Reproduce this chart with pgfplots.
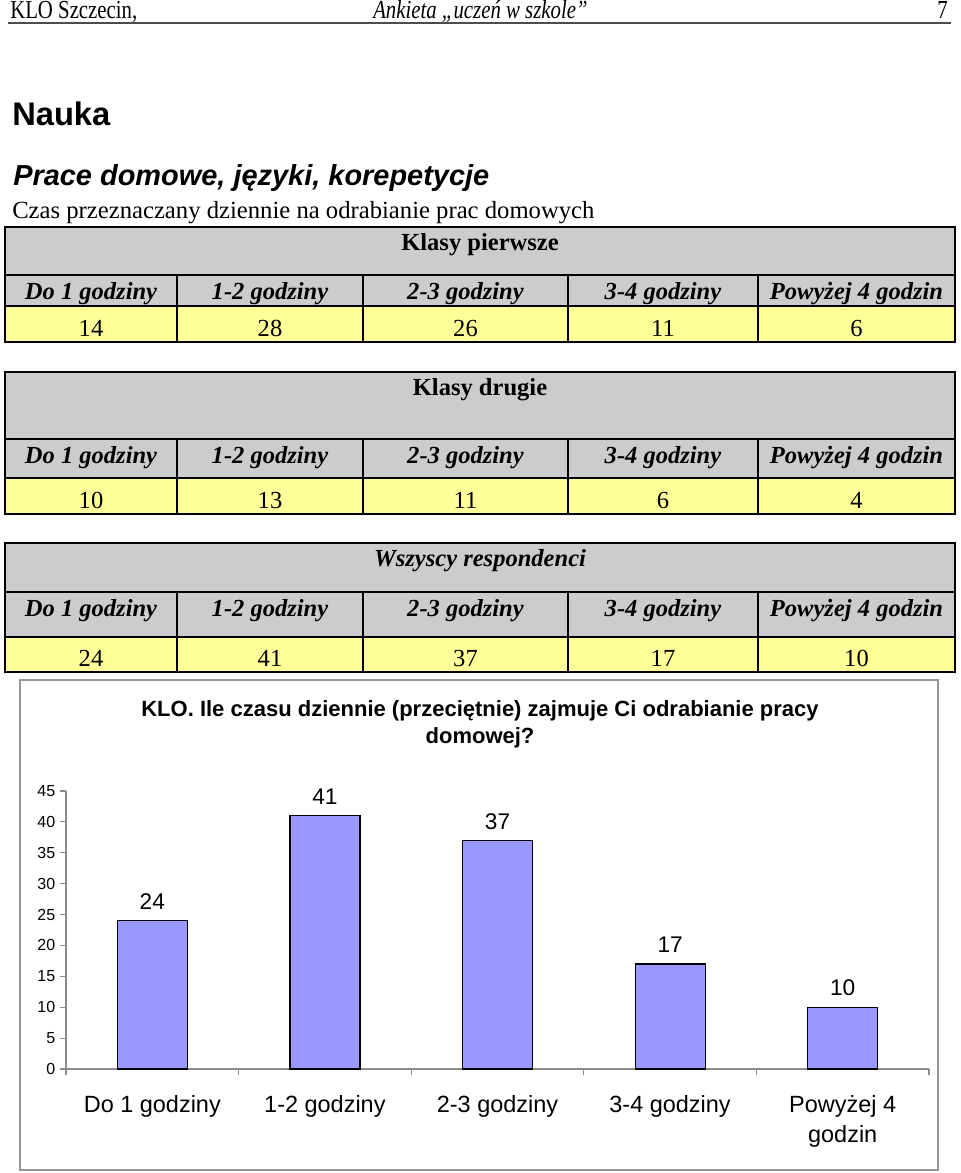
\documentclass[border=0pt]{standalone}
\usepackage{fontspec}
\setmainfont{Liberation Serif}
\newfontfamily\arial{Liberation Sans}
\newfontfamily\narrowserif[FakeStretch=0.8]{Liberation Serif}
\usepackage{pgfplots}
\pgfplotsset{compat=1.18}
\definecolor{tgrey}{RGB}{204,204,204}
\definecolor{tyellow}{RGB}{255,255,153}
\definecolor{barblue}{RGB}{153,153,255}
\definecolor{framegray}{RGB}{150,150,150}
\definecolor{axgray}{RGB}{140,140,140}
\newcommand{\tabfont}{\fontsize{18.4}{22}\selectfont}
% #1 top, #2 grey end, #3 header end, #4 bottom, #5 title, #6 title shape, #7 values
\newcommand{\tabela}[7]{%
  \fill[tgrey] (5,#1) rectangle (955,#3);
  \fill[tyellow] (5,#3) rectangle (955,#4);
  \draw[line width=1.2pt] (5,#1) rectangle (955,#4);
  \draw[line width=1.2pt] (5,#2) -- (955,#2) (5,#3) -- (955,#3);
  \foreach \xx in {177,363,568,758} \draw[line width=1.2pt] (\xx,#2) -- (\xx,#4);
  \node[anchor=base, inner sep=0, font=\tabfont\bfseries#6] at (480,#1+23.5) {#5};
  \foreach \cx/\lab in {91/Do 1 godziny, 270/1-2 godziny, 465.5/2-3 godziny, 663/3-4 godziny, 856.5/Powyżej 4 godzin}
    \node[anchor=base, inner sep=0, font=\tabfont\bfseries\itshape] at (\cx,#2+24) {\lab};
  \foreach \cx/\v in {#7}
    \node[anchor=base, inner sep=0, font=\tabfont] at (\cx,#4-6) {\v};
}
\begin{document}
\begin{tikzpicture}
\begin{scope}[x=0.75pt,y=-0.75pt]
\path[use as bounding box] (0,0) rectangle (960,1173);
% page header
\node[anchor=base west, inner sep=0, font=\narrowserif\fontsize{19.5}{23}\selectfont] at (10,19) {KLO Szczecin,};
\node[anchor=base west, inner sep=0, font=\narrowserif\itshape\fontsize{19.5}{23}\selectfont] at (373,19) {Ankieta „uczeń w szkole”};
\node[anchor=base east, inner sep=0, font=\narrowserif\fontsize{19.5}{23}\selectfont] at (948,19) {7};
\draw[line width=1.5pt, black!70] (8,23.5) -- (951,23.5);
% headings
\node[anchor=base west, inner sep=0, font=\arial\bfseries\fontsize{24.5}{28}\selectfont] at (12,126) {Nauka};
\node[anchor=base west, inner sep=0, font=\arial\bfseries\itshape\fontsize{21.7}{26}\selectfont] at (13,186) {Prace domowe, języki, korepetycje};
\node[anchor=base west, inner sep=0, font=\fontsize{18.5}{22}\selectfont] at (12,219) {Czas przeznaczany dziennie na odrabianie prac domowych};
% tables
\tabela{227}{275}{306}{342}{Klasy pierwsze}{}{91/14, 270/28, 465.5/26, 663/11, 856.5/6}
\tabela{372}{439}{478}{514}{Klasy drugie}{}{91/10, 270/13, 465.5/11, 663/6, 856.5/4}
\tabela{543}{592}{637}{672}{Wszyscy respondenci}{\itshape}{91/24, 270/41, 465.5/37, 663/17, 856.5/10}
% chart frame and title
\draw[framegray, line width=1.2pt] (20,680) rectangle (938,1170);
\node[anchor=base, inner sep=0, font=\arial\bfseries\fontsize{16.5}{20}\selectfont] at (480,716) {KLO. Ile czasu dziennie (przeciętnie) zajmuje Ci odrabianie pracy};
\node[anchor=base, inner sep=0, font=\arial\bfseries\fontsize{16.5}{20}\selectfont] at (480,743) {domowej?};
\end{scope}
\begin{axis}[
  at={(49.5pt,-801.75pt)}, anchor=south west,
  scale only axis, width=647.25pt, height=208.5pt,
  xmin=-0.5, xmax=4.5, ymin=0, ymax=45,
  axis x line=bottom, axis y line=left,
  axis line style={-, draw=axgray, line width=0.8pt},
  tick align=outside, major tick length=4.5pt, minor tick length=4.5pt,
  tick style={draw=axgray, line width=0.8pt},
  ytick={0,5,...,45},
  xtick={0,1,2,3,4},
  xticklabels={Do 1 godziny, 1-2 godziny, 2-3 godziny, 3-4 godziny, {Powyżej 4\\godzin}},
  minor xtick={-0.5,0.5,1.5,2.5,3.5,4.5},
  major x tick style={draw=none},
  x tick label style={align=center, font=\arial\fontsize{17.6}{23}\selectfont, yshift=-11.5pt},
  y tick label style={font=\arial\fontsize{12}{14}\selectfont},
  /pgf/number format/assume math mode=true,
  ybar, bar width=52.5pt,
  nodes near coords,
  nodes near coords style={font=\arial\fontsize{17}{20}\selectfont, yshift=4.5pt},
]
\addplot[fill=barblue, draw=black, line width=0.9pt] coordinates {(0,24) (1,41) (2,37) (3,17) (4,10)};
\end{axis}
\end{tikzpicture}
\end{document}
